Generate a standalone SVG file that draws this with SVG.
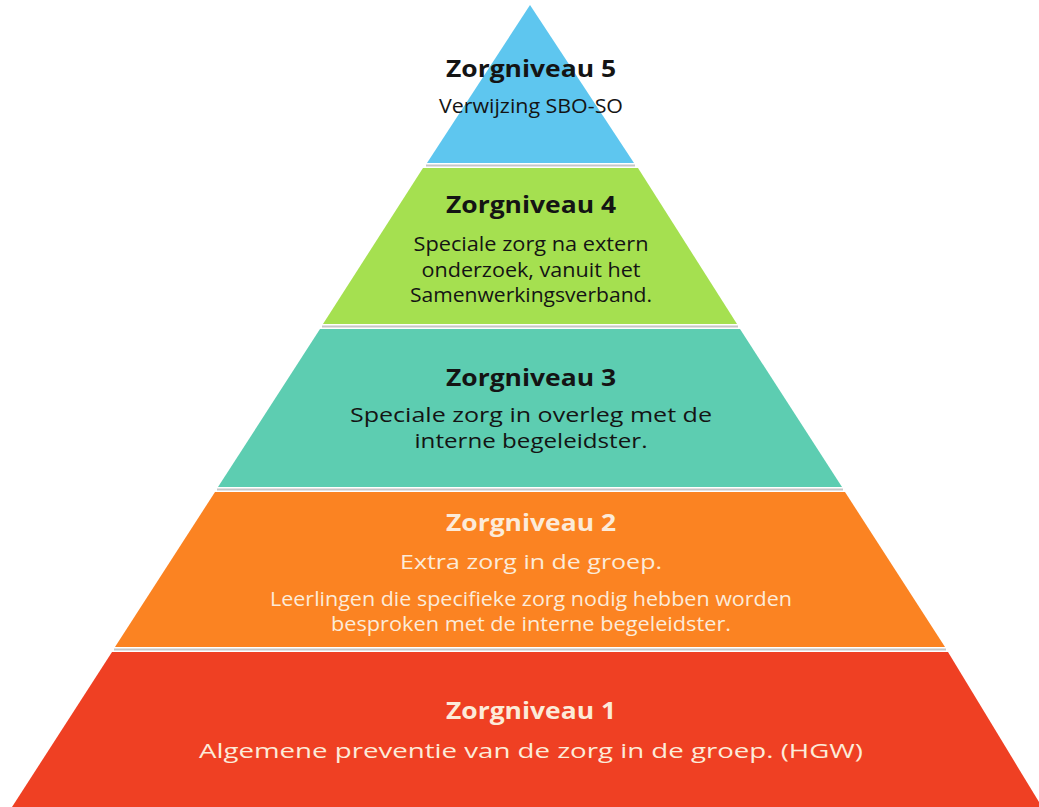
<svg xmlns="http://www.w3.org/2000/svg" width="1039" height="807" viewBox="0 0 1039 807">
<style>
.title{font-family:"Open Sans","Noto Sans",sans-serif;font-weight:bold;font-size:24px;text-anchor:middle}
.body{font-family:"Open Sans","Noto Sans",sans-serif;font-weight:500;font-size:20px;text-anchor:middle}
.dark{fill:#141414}
.light{fill:#fcebd9}
.sep{stroke:#c6c6c6;stroke-width:2}
</style>
<rect width="1039" height="807" fill="#ffffff"/>
<g id="separators">
<line class="sep" x1="426" y1="165.5" x2="635" y2="165.5"/>
<line class="sep" x1="322" y1="326.5" x2="738" y2="326.5"/>
<line class="sep" x1="217" y1="489.5" x2="843" y2="489.5"/>
<line class="sep" x1="114" y1="649.5" x2="946" y2="649.5"/>
</g>
<g id="level5">
<polygon points="530,5 427,163 634,163" fill="#5ec6ef"/>
<text class="title dark" x="531" y="77" textLength="170" lengthAdjust="spacingAndGlyphs">Zorgniveau 5</text>
<text class="body dark" x="531" y="113" textLength="184" lengthAdjust="spacingAndGlyphs">Verwijzing SBO-SO</text>
</g>
<g id="level4">
<polygon points="423,168 638,168 737,324 323,324" fill="#a5e050"/>
<text class="title dark" x="531" y="213" textLength="170" lengthAdjust="spacingAndGlyphs">Zorgniveau 4</text>
<text class="body dark" x="531" y="251" textLength="235" lengthAdjust="spacingAndGlyphs">Speciale zorg na extern</text>
<text class="body dark" x="531" y="277" textLength="219" lengthAdjust="spacingAndGlyphs">onderzoek, vanuit het</text>
<text class="body dark" x="531" y="302" textLength="242" lengthAdjust="spacingAndGlyphs">Samenwerkingsverband.</text>
</g>
<g id="level3">
<polygon points="320,329 740,329 842,487 218,487" fill="#5dcdb1"/>
<text class="title dark" x="531" y="386" textLength="170" lengthAdjust="spacingAndGlyphs">Zorgniveau 3</text>
<text class="body dark" x="531" y="422" font-size="21" textLength="362" lengthAdjust="spacingAndGlyphs">Speciale zorg in overleg met de</text>
<text class="body dark" x="531" y="448" font-size="21" textLength="233" lengthAdjust="spacingAndGlyphs">interne begeleidster.</text>
</g>
<g id="level2">
<polygon points="215,492 845,492 945,647 115,647" fill="#fb8322"/>
<text class="title light" x="531" y="531" textLength="170" lengthAdjust="spacingAndGlyphs">Zorgniveau 2</text>
<text class="body light" x="531" y="569" font-size="21" textLength="262" lengthAdjust="spacingAndGlyphs">Extra zorg in de groep.</text>
<text class="body light" x="531" y="606" font-size="17" textLength="522" lengthAdjust="spacingAndGlyphs">Leerlingen die specifieke zorg nodig hebben worden</text>
<text class="body light" x="531" y="631" font-size="17" textLength="400" lengthAdjust="spacingAndGlyphs">besproken met de interne begeleidster.</text>
</g>
<g id="level1">
<polygon points="112,652 948,652 1042,807 12,807" fill="#ef4023"/>
<text class="title light" x="531" y="719" textLength="170" lengthAdjust="spacingAndGlyphs">Zorgniveau 1</text>
<text class="body light" x="531" y="758" font-size="25" textLength="664" lengthAdjust="spacingAndGlyphs">Algemene preventie van de zorg in de groep. (HGW)</text>
</g>
</svg>
